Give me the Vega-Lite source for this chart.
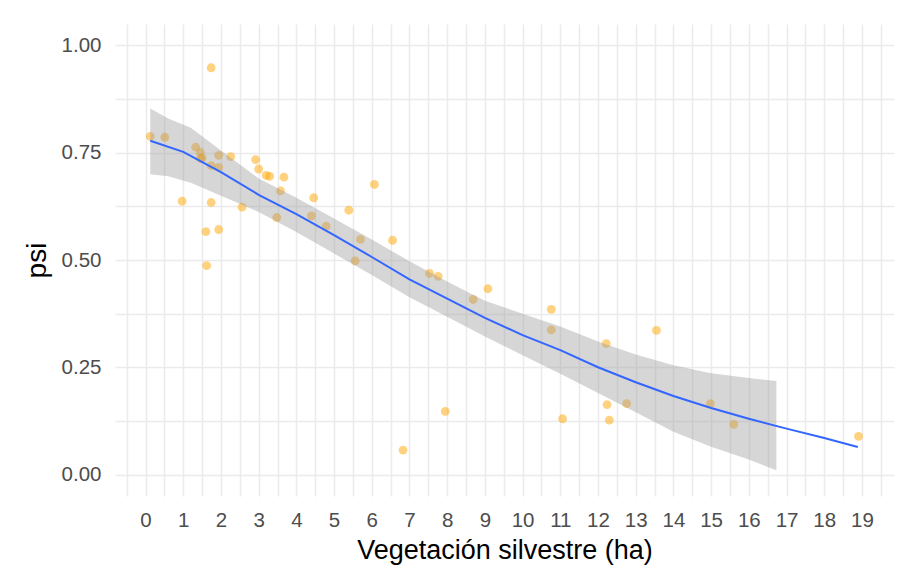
{
  "$schema": "https://vega.github.io/schema/vega-lite/v6.json",
  "autosize": {"type": "none"},
  "padding": {"left": 115, "top": 24, "right": 7, "bottom": 83},
  "width": 779,
  "height": 472,
  "background": "white",
  "config": {
    "view": {"stroke": null},
    "font": "Liberation Sans",
    "axis": {
      "domain": false,
      "ticks": false,
      "gridColor": "#EBEBEB",
      "gridWidth": 1.5,
      "labelColor": "#4D4D4D",
      "labelFont": "Liberation Sans",
      "labelFontSize": 20.5,
      "titleFont": "Liberation Sans",
      "titleFontWeight": "normal",
      "titleColor": "#000000"
    }
  },
  "datasets": {
    "pts": [
      {"veg": 0.125, "psi": 0.788}, {"veg": 0.51, "psi": 0.786}, {"veg": 0.97, "psi": 0.637},
      {"veg": 1.33, "psi": 0.763}, {"veg": 1.45, "psi": 0.751}, {"veg": 1.46, "psi": 0.737},
      {"veg": 1.5, "psi": 0.738}, {"veg": 1.6, "psi": 0.566}, {"veg": 1.62, "psi": 0.487},
      {"veg": 1.74, "psi": 0.948}, {"veg": 1.74, "psi": 0.634}, {"veg": 1.74, "psi": 0.72},
      {"veg": 1.94, "psi": 0.744}, {"veg": 1.94, "psi": 0.716}, {"veg": 1.94, "psi": 0.571},
      {"veg": 2.26, "psi": 0.741}, {"veg": 2.56, "psi": 0.623}, {"veg": 2.92, "psi": 0.734},
      {"veg": 3.0, "psi": 0.712}, {"veg": 3.2, "psi": 0.697}, {"veg": 3.29, "psi": 0.695},
      {"veg": 3.48, "psi": 0.599}, {"veg": 3.58, "psi": 0.661}, {"veg": 3.67, "psi": 0.693},
      {"veg": 4.4, "psi": 0.603}, {"veg": 4.46, "psi": 0.645}, {"veg": 4.79, "psi": 0.579},
      {"veg": 5.39, "psi": 0.616}, {"veg": 5.56, "psi": 0.498}, {"veg": 5.7, "psi": 0.548},
      {"veg": 6.07, "psi": 0.676}, {"veg": 6.55, "psi": 0.546}, {"veg": 6.83, "psi": 0.057},
      {"veg": 7.53, "psi": 0.469}, {"veg": 7.76, "psi": 0.462}, {"veg": 7.95, "psi": 0.147},
      {"veg": 8.69, "psi": 0.408}, {"veg": 9.08, "psi": 0.433}, {"veg": 10.76, "psi": 0.385},
      {"veg": 10.76, "psi": 0.337}, {"veg": 11.06, "psi": 0.13}, {"veg": 12.22, "psi": 0.305},
      {"veg": 12.24, "psi": 0.163}, {"veg": 12.3, "psi": 0.127}, {"veg": 12.76, "psi": 0.165},
      {"veg": 13.55, "psi": 0.336}, {"veg": 14.98, "psi": 0.165}, {"veg": 15.6, "psi": 0.117},
      {"veg": 18.91, "psi": 0.089}
    ],
    "band": [
      {"veg": 0.125, "lo": 0.700, "hi": 0.853}, {"veg": 0.6, "lo": 0.695, "hi": 0.83},
      {"veg": 1.2, "lo": 0.680, "hi": 0.808}, {"veg": 2.0, "lo": 0.650, "hi": 0.755},
      {"veg": 3.0, "lo": 0.612, "hi": 0.690}, {"veg": 4.0, "lo": 0.565, "hi": 0.645},
      {"veg": 5.0, "lo": 0.515, "hi": 0.597}, {"veg": 6.0, "lo": 0.465, "hi": 0.548},
      {"veg": 7.0, "lo": 0.413, "hi": 0.497}, {"veg": 8.0, "lo": 0.368, "hi": 0.450},
      {"veg": 9.0, "lo": 0.322, "hi": 0.405}, {"veg": 10.0, "lo": 0.278, "hi": 0.375},
      {"veg": 11.0, "lo": 0.235, "hi": 0.345}, {"veg": 12.0, "lo": 0.19, "hi": 0.31},
      {"veg": 13.0, "lo": 0.145, "hi": 0.28}, {"veg": 14.0, "lo": 0.10, "hi": 0.255},
      {"veg": 15.0, "lo": 0.065, "hi": 0.236}, {"veg": 16.0, "lo": 0.035, "hi": 0.225},
      {"veg": 16.73, "lo": 0.01, "hi": 0.218}
    ],
    "fit": [
      {"veg": 0.125, "psi": 0.778}, {"veg": 1.0, "psi": 0.752}, {"veg": 2.0, "psi": 0.705},
      {"veg": 3.0, "psi": 0.652}, {"veg": 4.0, "psi": 0.607}, {"veg": 5.0, "psi": 0.558},
      {"veg": 6.0, "psi": 0.507}, {"veg": 7.0, "psi": 0.455}, {"veg": 8.0, "psi": 0.41},
      {"veg": 9.0, "psi": 0.365}, {"veg": 10.0, "psi": 0.325}, {"veg": 11.0, "psi": 0.29},
      {"veg": 12.0, "psi": 0.25}, {"veg": 13.0, "psi": 0.215}, {"veg": 14.0, "psi": 0.183},
      {"veg": 15.0, "psi": 0.155}, {"veg": 16.0, "psi": 0.13}, {"veg": 17.0, "psi": 0.107},
      {"veg": 18.0, "psi": 0.085}, {"veg": 18.89, "psi": 0.064}
    ]
  },
  "layer": [
    {
      "data": {"name": "pts"},
      "mark": {"type": "point", "filled": true, "size": 78, "color": "#FFA500", "opacity": 0.5},
      "encoding": {
        "x": {
          "field": "veg", "type": "quantitative",
          "scale": {"domain": [-0.81, 19.85], "nice": false, "zero": false},
          "axis": {
            "title": "Vegetación silvestre (ha)",
            "titleFontSize": 27,
            "titleY": 54,
            "titleBaseline": "middle",
            "tickCount": 200,
            "values": [-0.5, 0, 0.5, 1, 1.5, 2, 2.5, 3, 3.5, 4, 4.5, 5, 5.5, 6, 6.5, 7, 7.5, 8, 8.5, 9, 9.5, 10, 10.5, 11, 11.5, 12, 12.5, 13, 13.5, 14, 14.5, 15, 15.5, 16, 16.5, 17, 17.5, 18, 18.5, 19, 19.5],
            "labelExpr": "datum.value % 1 === 0 ? format(datum.value, 'd') : ''",
            "labelPadding": 14,
            "labelFlush": false,
            "labelOverlap": false
          }
        },
        "y": {
          "field": "psi", "type": "quantitative",
          "scale": {"domain": [-0.05, 1.05], "nice": false, "zero": false},
          "axis": {
            "title": "psi",
            "titleFontSize": 28,
            "titleX": -78,
            "titleY": 236,
            "titleAlign": "center",
            "titleBaseline": "middle",
            "tickCount": 100,
            "values": [0, 0.125, 0.25, 0.375, 0.5, 0.625, 0.75, 0.875, 1],
            "labelExpr": "(datum.value * 4) % 1 === 0 ? format(datum.value, '.2f') : ''",
            "labelPadding": 14,
            "labelFlush": false,
            "labelOverlap": false
          }
        }
      }
    },
    {
      "data": {"name": "band"},
      "mark": {"type": "area", "color": "#999999", "opacity": 0.4},
      "encoding": {
        "x": {"field": "veg", "type": "quantitative"},
        "y": {"field": "lo", "type": "quantitative"},
        "y2": {"field": "hi"}
      }
    },
    {
      "data": {"name": "fit"},
      "mark": {"type": "line", "color": "#3366FF", "strokeWidth": 2},
      "encoding": {
        "x": {"field": "veg", "type": "quantitative"},
        "y": {"field": "psi", "type": "quantitative"}
      }
    }
  ]
}
